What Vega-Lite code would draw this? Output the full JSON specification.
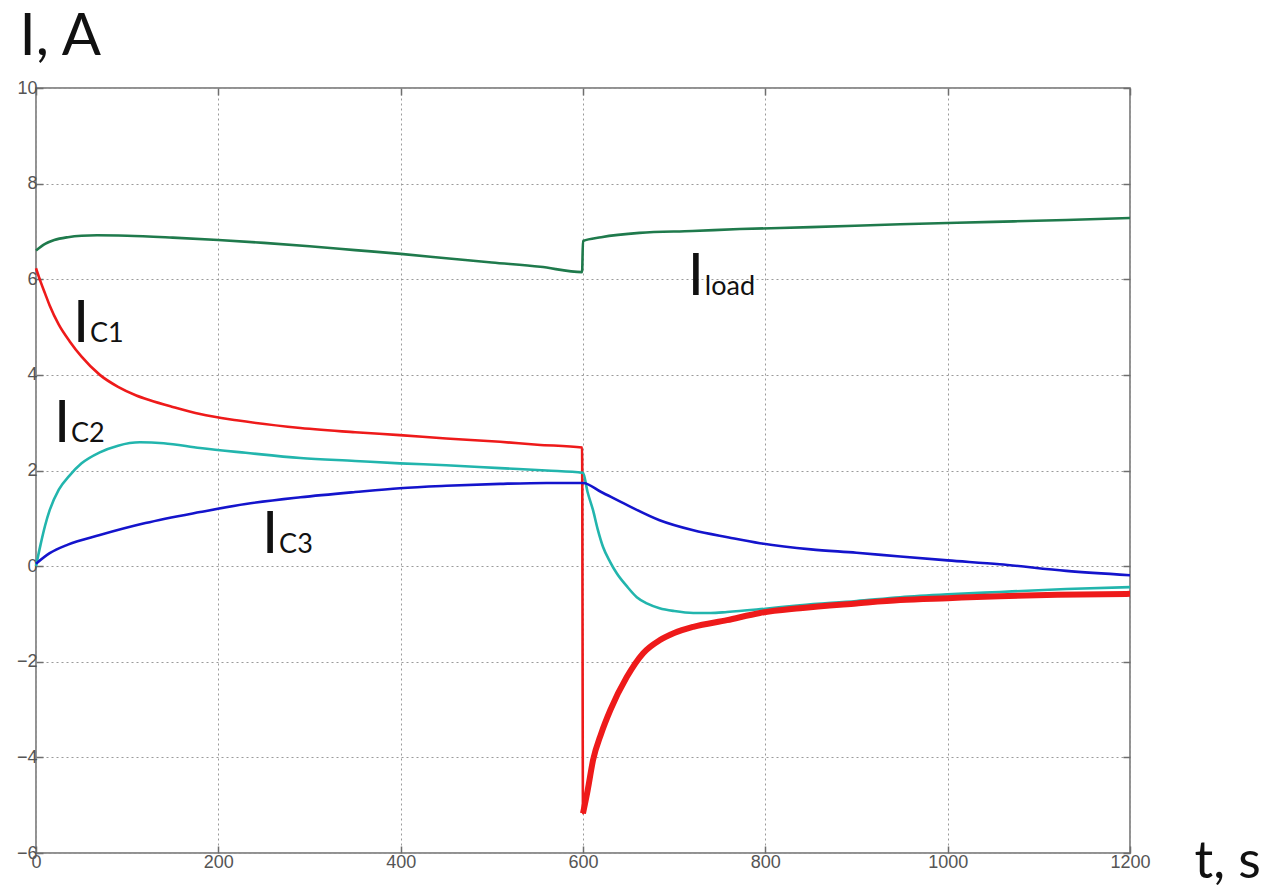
{
  "$schema": "https://vega.github.io/schema/vega-lite/v6.json",
  "width": 1094,
  "height": 765,
  "autosize": {"type": "none"},
  "padding": {"left": 36, "top": 88, "right": 158, "bottom": 38},
  "background": "white",
  "config": {
    "view": {"stroke": "#6e6e6e", "strokeWidth": 1.5},
    "axis": {
      "labelFont": "Liberation Sans",
      "labelFontSize": 18,
      "labelColor": "#555555",
      "domain": false,
      "tickColor": "#6e6e6e",
      "tickSize": -7,
      "tickWidth": 1.5,
      "gridColor": "#9a9a9a",
      "gridDash": [2, 3],
      "gridWidth": 1
    },
    "axisX": {"labelFontSize": 18},
    "axisY": {"labelFontSize": 18}
  },
  "datasets": {
    "curves": [
      {"t": 0, "I": 6.60, "s": "Iload"},
      {"t": 10, "I": 6.74, "s": "Iload"},
      {"t": 20, "I": 6.82, "s": "Iload"},
      {"t": 35, "I": 6.88, "s": "Iload"},
      {"t": 50, "I": 6.91, "s": "Iload"},
      {"t": 67, "I": 6.92, "s": "Iload"},
      {"t": 100, "I": 6.91, "s": "Iload"},
      {"t": 150, "I": 6.87, "s": "Iload"},
      {"t": 200, "I": 6.82, "s": "Iload"},
      {"t": 250, "I": 6.76, "s": "Iload"},
      {"t": 300, "I": 6.69, "s": "Iload"},
      {"t": 350, "I": 6.61, "s": "Iload"},
      {"t": 400, "I": 6.53, "s": "Iload"},
      {"t": 450, "I": 6.44, "s": "Iload"},
      {"t": 500, "I": 6.35, "s": "Iload"},
      {"t": 553, "I": 6.26, "s": "Iload"},
      {"t": 599, "I": 6.15, "s": "Iload"},
      {"t": 600, "I": 6.80, "s": "Iload"},
      {"t": 620, "I": 6.88, "s": "Iload"},
      {"t": 662, "I": 6.97, "s": "Iload"},
      {"t": 720, "I": 7.01, "s": "Iload"},
      {"t": 772, "I": 7.05, "s": "Iload"},
      {"t": 850, "I": 7.09, "s": "Iload"},
      {"t": 948, "I": 7.15, "s": "Iload"},
      {"t": 1050, "I": 7.20, "s": "Iload"},
      {"t": 1130, "I": 7.24, "s": "Iload"},
      {"t": 1200, "I": 7.28, "s": "Iload"},

      {"t": 0, "I": 6.23, "s": "IC1"},
      {"t": 5, "I": 5.95, "s": "IC1"},
      {"t": 10, "I": 5.70, "s": "IC1"},
      {"t": 15, "I": 5.45, "s": "IC1"},
      {"t": 25, "I": 5.05, "s": "IC1"},
      {"t": 37, "I": 4.70, "s": "IC1"},
      {"t": 50, "I": 4.38, "s": "IC1"},
      {"t": 70, "I": 4.00, "s": "IC1"},
      {"t": 90, "I": 3.75, "s": "IC1"},
      {"t": 110, "I": 3.57, "s": "IC1"},
      {"t": 125, "I": 3.47, "s": "IC1"},
      {"t": 150, "I": 3.33, "s": "IC1"},
      {"t": 180, "I": 3.18, "s": "IC1"},
      {"t": 220, "I": 3.05, "s": "IC1"},
      {"t": 290, "I": 2.89, "s": "IC1"},
      {"t": 350, "I": 2.80, "s": "IC1"},
      {"t": 399, "I": 2.74, "s": "IC1"},
      {"t": 450, "I": 2.67, "s": "IC1"},
      {"t": 509, "I": 2.60, "s": "IC1"},
      {"t": 550, "I": 2.54, "s": "IC1"},
      {"t": 599, "I": 2.48, "s": "IC1"},
      {"t": 600, "I": -5.17, "s": "IC1"},
      {"t": 605, "I": -4.70, "s": "IC1"},
      {"t": 611, "I": -4.06, "s": "IC1"},
      {"t": 620, "I": -3.50, "s": "IC1"},
      {"t": 630, "I": -3.01, "s": "IC1"},
      {"t": 648, "I": -2.32, "s": "IC1"},
      {"t": 666, "I": -1.82, "s": "IC1"},
      {"t": 684, "I": -1.55, "s": "IC1"},
      {"t": 700, "I": -1.40, "s": "IC1"},
      {"t": 721, "I": -1.27, "s": "IC1"},
      {"t": 758, "I": -1.13, "s": "IC1"},
      {"t": 794, "I": -0.98, "s": "IC1"},
      {"t": 838, "I": -0.88, "s": "IC1"},
      {"t": 900, "I": -0.78, "s": "IC1"},
      {"t": 948, "I": -0.71, "s": "IC1"},
      {"t": 1000, "I": -0.67, "s": "IC1"},
      {"t": 1057, "I": -0.63, "s": "IC1"},
      {"t": 1120, "I": -0.60, "s": "IC1"},
      {"t": 1200, "I": -0.58, "s": "IC1"},

      {"t": 0, "I": 0.00, "s": "IC2"},
      {"t": 5, "I": 0.45, "s": "IC2"},
      {"t": 10, "I": 0.85, "s": "IC2"},
      {"t": 15, "I": 1.17, "s": "IC2"},
      {"t": 25, "I": 1.60, "s": "IC2"},
      {"t": 37, "I": 1.90, "s": "IC2"},
      {"t": 50, "I": 2.15, "s": "IC2"},
      {"t": 70, "I": 2.38, "s": "IC2"},
      {"t": 90, "I": 2.52, "s": "IC2"},
      {"t": 114, "I": 2.59, "s": "IC2"},
      {"t": 140, "I": 2.57, "s": "IC2"},
      {"t": 180, "I": 2.47, "s": "IC2"},
      {"t": 230, "I": 2.37, "s": "IC2"},
      {"t": 290, "I": 2.26, "s": "IC2"},
      {"t": 350, "I": 2.20, "s": "IC2"},
      {"t": 399, "I": 2.15, "s": "IC2"},
      {"t": 450, "I": 2.11, "s": "IC2"},
      {"t": 509, "I": 2.05, "s": "IC2"},
      {"t": 560, "I": 2.00, "s": "IC2"},
      {"t": 600, "I": 1.95, "s": "IC2"},
      {"t": 605, "I": 1.55, "s": "IC2"},
      {"t": 611, "I": 1.17, "s": "IC2"},
      {"t": 616, "I": 0.78, "s": "IC2"},
      {"t": 622, "I": 0.40, "s": "IC2"},
      {"t": 630, "I": 0.08, "s": "IC2"},
      {"t": 637, "I": -0.15, "s": "IC2"},
      {"t": 648, "I": -0.42, "s": "IC2"},
      {"t": 659, "I": -0.65, "s": "IC2"},
      {"t": 670, "I": -0.78, "s": "IC2"},
      {"t": 684, "I": -0.88, "s": "IC2"},
      {"t": 700, "I": -0.94, "s": "IC2"},
      {"t": 721, "I": -0.98, "s": "IC2"},
      {"t": 740, "I": -0.98, "s": "IC2"},
      {"t": 758, "I": -0.96, "s": "IC2"},
      {"t": 800, "I": -0.89, "s": "IC2"},
      {"t": 838, "I": -0.82, "s": "IC2"},
      {"t": 900, "I": -0.73, "s": "IC2"},
      {"t": 948, "I": -0.65, "s": "IC2"},
      {"t": 1000, "I": -0.59, "s": "IC2"},
      {"t": 1057, "I": -0.54, "s": "IC2"},
      {"t": 1130, "I": -0.48, "s": "IC2"},
      {"t": 1200, "I": -0.44, "s": "IC2"},

      {"t": 0, "I": 0.05, "s": "IC3"},
      {"t": 15, "I": 0.27, "s": "IC3"},
      {"t": 35, "I": 0.45, "s": "IC3"},
      {"t": 70, "I": 0.65, "s": "IC3"},
      {"t": 120, "I": 0.90, "s": "IC3"},
      {"t": 180, "I": 1.13, "s": "IC3"},
      {"t": 230, "I": 1.30, "s": "IC3"},
      {"t": 290, "I": 1.44, "s": "IC3"},
      {"t": 350, "I": 1.55, "s": "IC3"},
      {"t": 399, "I": 1.63, "s": "IC3"},
      {"t": 450, "I": 1.68, "s": "IC3"},
      {"t": 509, "I": 1.72, "s": "IC3"},
      {"t": 560, "I": 1.74, "s": "IC3"},
      {"t": 600, "I": 1.74, "s": "IC3"},
      {"t": 620, "I": 1.55, "s": "IC3"},
      {"t": 648, "I": 1.28, "s": "IC3"},
      {"t": 684, "I": 0.96, "s": "IC3"},
      {"t": 721, "I": 0.75, "s": "IC3"},
      {"t": 760, "I": 0.60, "s": "IC3"},
      {"t": 794, "I": 0.48, "s": "IC3"},
      {"t": 850, "I": 0.35, "s": "IC3"},
      {"t": 900, "I": 0.28, "s": "IC3"},
      {"t": 948, "I": 0.20, "s": "IC3"},
      {"t": 1000, "I": 0.12, "s": "IC3"},
      {"t": 1057, "I": 0.04, "s": "IC3"},
      {"t": 1130, "I": -0.10, "s": "IC3"},
      {"t": 1200, "I": -0.19, "s": "IC3"}
    ],
    "labels": [
      {"t": 40.6, "I": 4.69, "main": "I", "sub": "C1"},
      {"t": 19.7, "I": 2.59, "main": "I", "sub": "C2"},
      {"t": 248, "I": 0.27, "main": "I", "sub": "C3"},
      {"t": 715, "I": 5.67, "main": "I", "sub": "load"}
    ]
  },
  "resolve": {"axis": {"x": "independent", "y": "independent"}},
  "layer": [
    {
      "data": {"name": "curves"},
      "mark": {"type": "line", "strokeWidth": 2.6, "interpolate": "monotone"},
      "encoding": {
        "x": {
          "field": "t", "type": "quantitative",
          "scale": {"domain": [0, 1200], "nice": false, "zero": false},
          "axis": {
            "orient": "bottom", "values": [0, 200, 400, 600, 800, 1000, 1200], "format": "d",
            "labelFont": "Liberation Sans", "labelFontSize": 18, "labelColor": "#555555",
            "grid": true, "labelPadding": 7, "labelFlush": false,
            "title": "t, s", "titleFont": "Lato", "titleFontSize": 52, "titleFontWeight": "normal",
            "titleColor": "#111111", "titleAlign": "left", "titleBaseline": "alphabetic",
            "titleAnchor": null, "titleX": 1158, "titleY": 24
          }
        },
        "y": {
          "field": "I", "type": "quantitative",
          "scale": {"domain": [-6, 10], "nice": false, "zero": false},
          "axis": {
            "orient": "left", "values": [-6, -4, -2, 0, 2, 4, 6, 8, 10], "format": "d",
            "labelFont": "Liberation Sans", "labelFontSize": 18, "labelColor": "#555555",
            "grid": true, "labelPadding": 6, "labelFlush": false,
            "title": "I, A", "titleFont": "Lato", "titleFontSize": 58, "titleFontWeight": "normal",
            "titleColor": "#111111", "titleAngle": 0, "titleAlign": "left", "titleBaseline": "alphabetic",
            "titleAnchor": null, "titleX": -17, "titleY": -34
          }
        },
        "color": {
          "field": "s", "type": "nominal",
          "scale": {"domain": ["Iload", "IC1", "IC2", "IC3"], "range": ["#1f7a4c", "#ee1a1a", "#22b5ad", "#1414cc"]},
          "legend": null
        },
        "detail": {"field": "s"}
      }
    },
    {
      "data": {"name": "curves"},
      "transform": [{"filter": "datum.s == 'IC1' && datum.t >= 600"}],
      "mark": {"type": "line", "strokeWidth": 6, "color": "#ee1a1a", "interpolate": "monotone"},
      "encoding": {
        "x": {"field": "t", "type": "quantitative",
          "axis": {"orient": "top", "values": [0, 200, 400, 600, 800, 1000, 1200], "labels": false, "grid": false, "title": null}},
        "y": {"field": "I", "type": "quantitative",
          "axis": {"orient": "right", "values": [-6, -4, -2, 0, 2, 4, 6, 8, 10], "labels": false, "grid": false, "title": null}}
      }
    },
    {
      "data": {"name": "labels"},
      "mark": {"type": "text", "font": "Lato", "fontSize": 58, "align": "left", "baseline": "alphabetic", "color": "#111111"},
      "encoding": {
        "x": {"field": "t", "type": "quantitative", "axis": null},
        "y": {"field": "I", "type": "quantitative", "axis": null},
        "text": {"field": "main"}
      }
    },
    {
      "data": {"name": "labels"},
      "mark": {"type": "text", "font": "Lato", "fontSize": 27, "align": "left", "baseline": "alphabetic", "color": "#111111", "dx": 17},
      "encoding": {
        "x": {"field": "t", "type": "quantitative", "axis": null},
        "y": {"field": "I", "type": "quantitative", "axis": null},
        "text": {"field": "sub"}
      }
    }
  ]
}
